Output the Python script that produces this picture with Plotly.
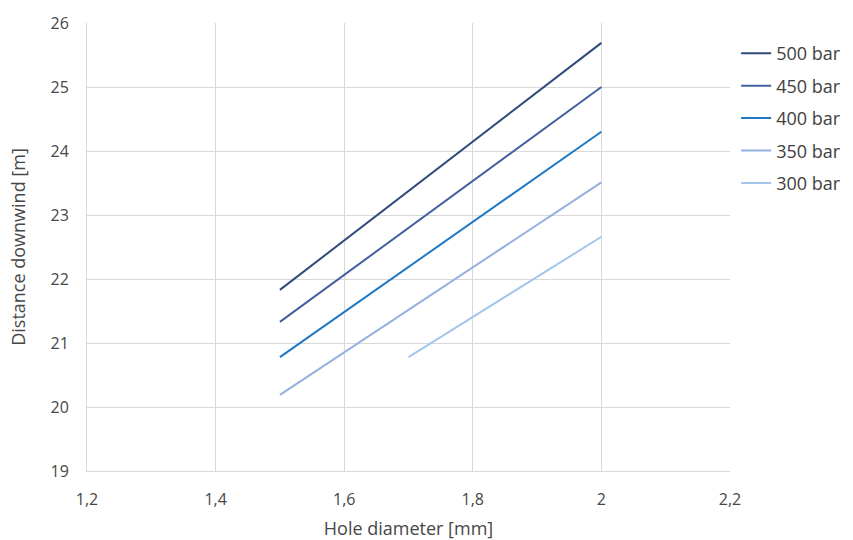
import plotly.graph_objects as go

# Hole diameter [mm] at the start and end of each pressure series
diam_500 = [1.5, 2.0]
diam_450 = [1.5, 2.0]
diam_400 = [1.5, 2.0]
diam_350 = [1.5, 2.0]
diam_300 = [1.7, 2.0]

# Distance downwind [m]
dist_500 = [21.83, 25.69]
dist_450 = [21.33, 25.0]
dist_400 = [20.78, 24.30]
dist_350 = [20.19, 23.51]
dist_300 = [20.78, 22.66]

series_names = ["500 bar", "450 bar", "400 bar", "350 bar", "300 bar"]
series_colors = ["#2F4A7A", "#41609F", "#1F78C6", "#94B0DF", "#A4C6EC"]

x_ticks = [1.2, 1.4, 1.6, 1.8, 2.0, 2.2]
x_tick_labels = ["1,2", "1,4", "1,6", "1,8", "2", "2,2"]
y_ticks = [19, 20, 21, 22, 23, 24, 25, 26]

xs = [diam_500, diam_450, diam_400, diam_350, diam_300]
ys = [dist_500, dist_450, dist_400, dist_350, dist_300]

fig = go.Figure()
for name, color, x, y in zip(series_names, series_colors, xs, ys):
    fig.add_trace(go.Scatter(
        x=x, y=y, mode="lines", name=name, legendgroup=name,
        line=dict(color=color, width=2),
    ))

font_family = "Open Sans, Liberation Sans, sans-serif"
text_color = "#474747"
fig.update_layout(
    width=853, height=540,
    margin=dict(l=87, r=123, t=23, b=69, autoexpand=False),
    paper_bgcolor="white", plot_bgcolor="white",
    font=dict(family=font_family, size=16, color=text_color),
    showlegend=True,
    legend=dict(
        x=0.863, y=0.935, xref="container", yref="container",
        xanchor="left", yanchor="top",
        traceorder="grouped", tracegroupgap=6,
        font=dict(size=18, color="#404040"),
        itemwidth=30,
    ),
    xaxis=dict(
        range=[1.2, 2.2], tickvals=x_ticks, ticktext=x_tick_labels,
        showgrid=True, gridcolor="#D9D9D9", gridwidth=1,
        showline=True, linecolor="#D9D9D9", linewidth=1,
        zeroline=False, ticks="", ticklabelstandoff=14, automargin=False,
        title=dict(text="Hole diameter [mm]", font=dict(size=18, color=text_color), standoff=20),
    ),
    yaxis=dict(
        range=[19, 26], tickvals=y_ticks,
        showgrid=True, gridcolor="#D9D9D9", gridwidth=1,
        showline=True, linecolor="#D9D9D9", linewidth=1,
        zeroline=False, ticks="", ticklabelstandoff=14, automargin=False,
        title=dict(text="Distance downwind [m]", font=dict(size=18, color=text_color), standoff=20),
    ),
)

fig.write_html("out.html")
